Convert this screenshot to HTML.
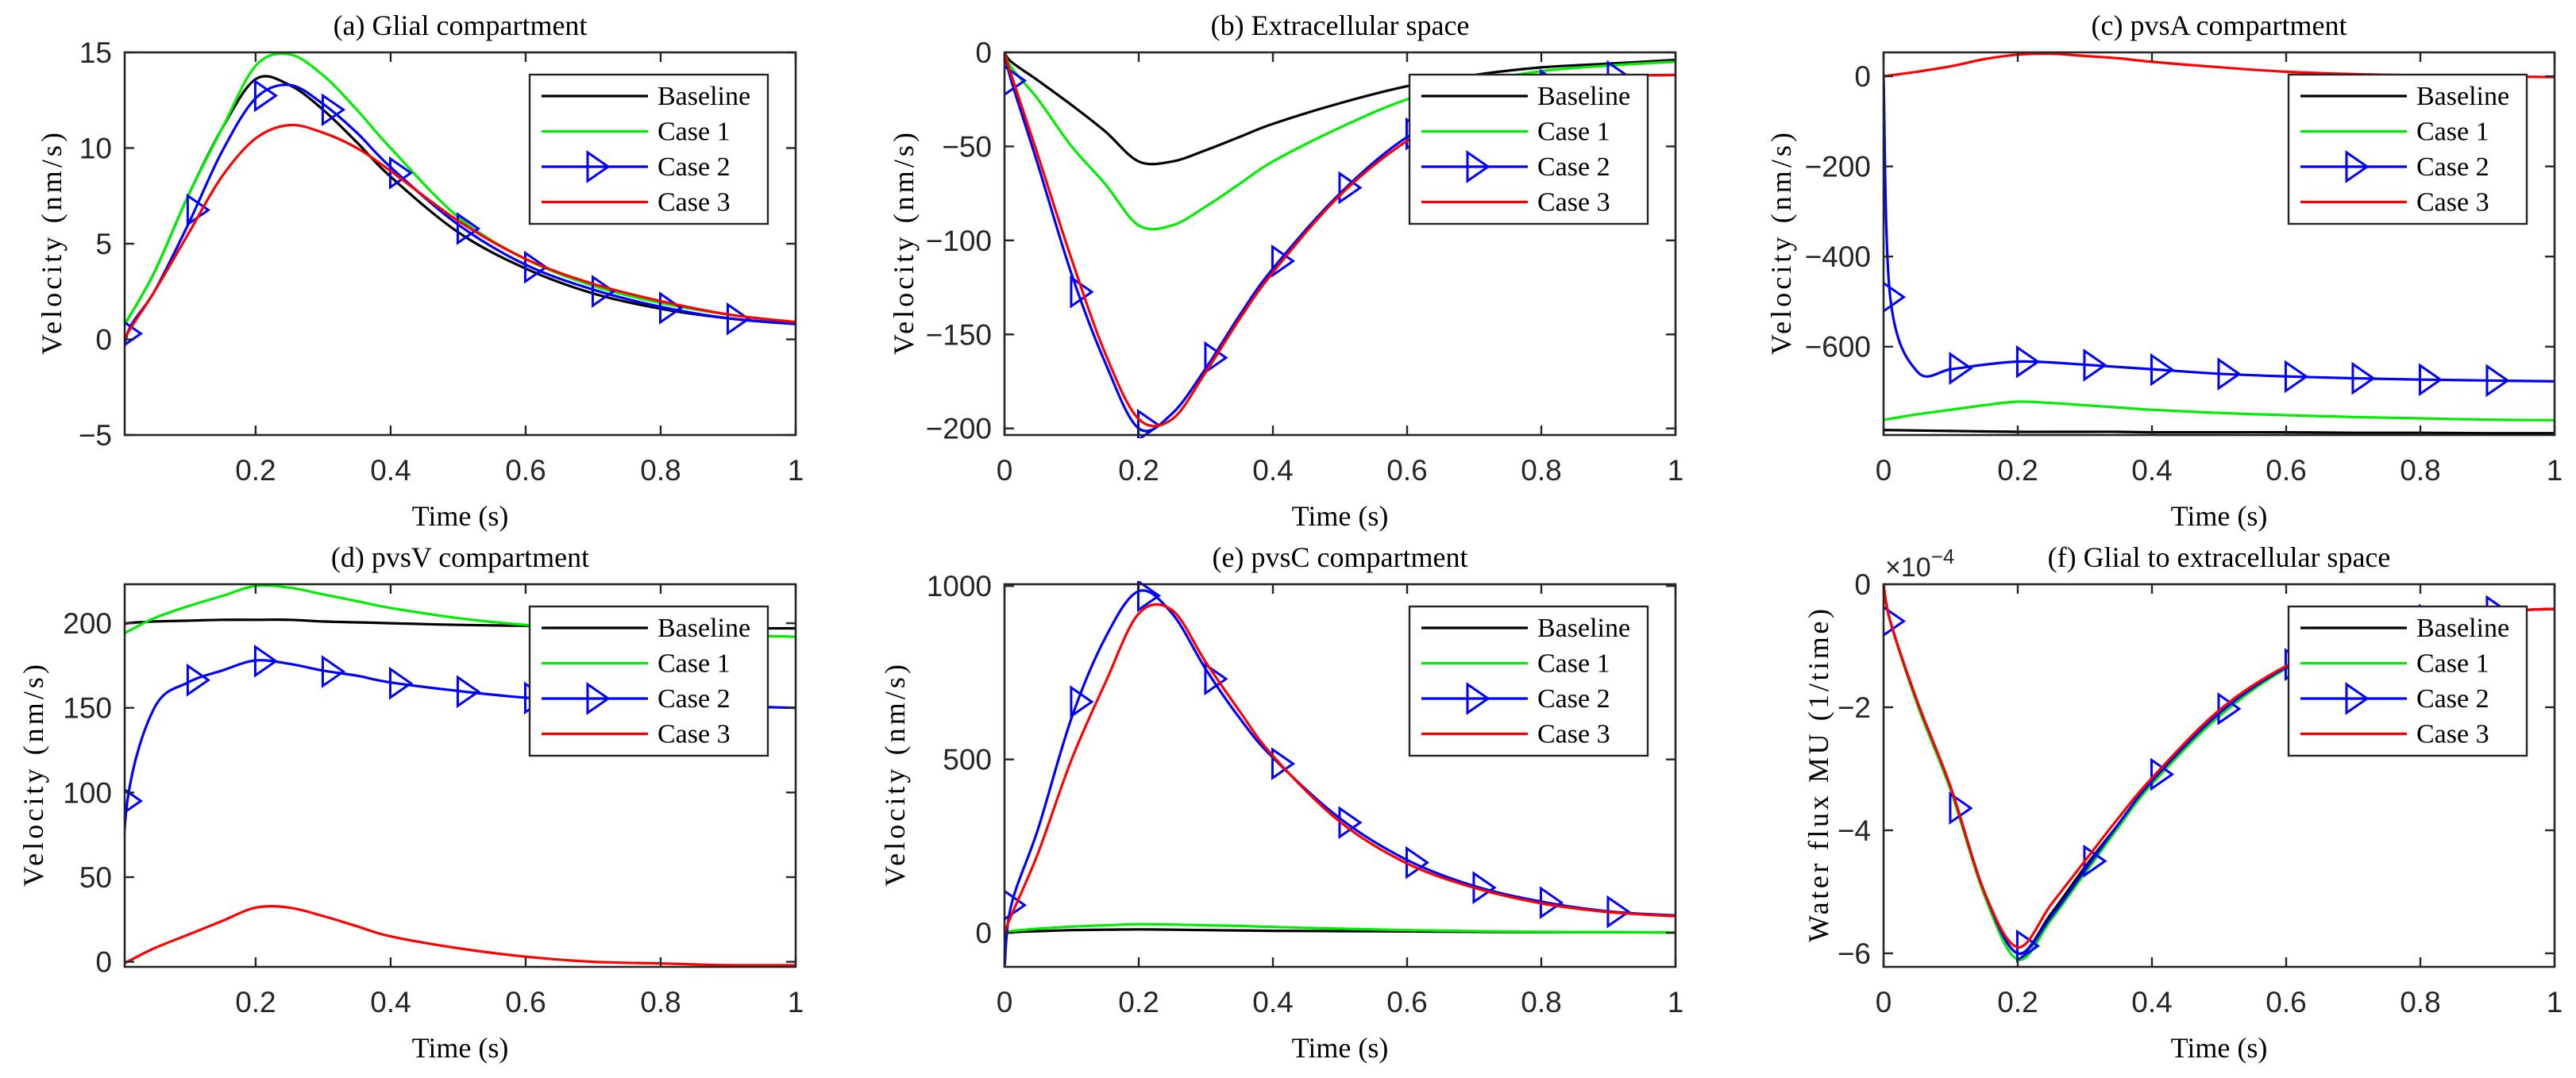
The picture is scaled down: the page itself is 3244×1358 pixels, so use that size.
<!DOCTYPE html>
<html><head><meta charset="utf-8"><style>
html,body{margin:0;padding:0;background:#fff;}
svg{display:block;}
</style></head><body>
<svg id="fig" width="3244" height="1358" viewBox="0 0 3244 1358" xmlns="http://www.w3.org/2000/svg"></svg>
<script>
// ---- shared data ----
const times = [0,0.01,0.05,0.1,0.15,0.2,0.25,0.3,0.35,0.4,0.5,0.6,0.7,0.8,0.9,1.0];
const seriesNames = ["Baseline","Case 1","Case 2","Case 3"];
const markerTimes = [0.01,0.11,0.21,0.31,0.41,0.51,0.61,0.71,0.81,0.91];

// (a) Glial compartment
const aBase = [0.3,1,3.5,7.5,11,13.6,13.3,12,10.3,8.5,5.6,3.7,2.4,1.6,1.1,0.8];
const aC1 = [0.3,1,3.5,7.5,11,14.3,14.9,13.8,12,10,6.4,4.2,2.8,1.9,1.3,0.9];
const aC2 = [-2.5,0.3,2.5,6,9.8,12.6,13.3,12.3,10.8,9,6,3.9,2.6,1.7,1.1,0.8];
const aC3 = [-0.5,0.3,2.5,5.5,8.5,10.5,11.2,10.8,10,8.8,6.2,4.2,2.9,2,1.3,0.9];
const aYTicks = [-5,0,5,10,15];
const aXTicks = [0.2,0.4,0.6,0.8,1];
// (b) Extracellular space
const bBase = [0,-5,-15,-28,-42,-58,-58,-52,-45,-38,-27,-18,-12,-8,-6,-4];
const bC1 = [0,-8,-25,-50,-70,-92,-92,-82,-70,-58,-40,-25,-16,-10,-7,-5];
const bC2 = [0,-15,-60,-118,-165,-200,-192,-168,-140,-115,-75,-45,-28,-18,-13,-12];
const bC3 = [0,-12,-55,-110,-160,-195,-195,-170,-142,-117,-76,-47,-28,-18,-13,-12];
const bYTicks = [-200,-150,-100,-50,0];
const bXTicks = [0,0.2,0.4,0.6,0.8,1];
// (c) pvsA compartment
const cBase = [-785,-785,-786,-787,-788,-789,-789,-789,-789,-790,-790,-790,-791,-791,-792,-792];
const cC1 = [-762,-760,-750,-740,-730,-722,-725,-730,-735,-740,-747,-752,-756,-759,-762,-763];
const cC2 = [0,-490,-655,-650,-640,-633,-635,-640,-645,-650,-660,-666,-670,-673,-675,-677];
const cC3 = [0,2,10,22,38,48,50,45,40,32,20,10,5,2,0,-2];
const cYTicks = [-600,-400,-200,0];
const cXTicks = [0,0.2,0.4,0.6,0.8,1];
// (d) pvsV compartment
const dBase = [199,200,201,201.5,202,202,202,201,200.5,200,199,198.5,198,197.5,197,197];
const dC1 = [193,195,203,210,216,222,221,217,213,209,203,199,197,195,193,192];
const dC2 = [8,95,150,165,172,178,176,172,169,165,160,156,154,152,151,150];
const dC3 = [-2,0,8,16,24,32,32,27,21,15,8,3,0,-1,-2,-2];
const dYTicks = [0,50,100,150,200];
const dXTicks = [0.2,0.4,0.6,0.8,1];
// (e) pvsC compartment
const eBase = [0,2,5,8,9,10,9,8,7,6,5,4,3,2,2,1];
const eC1 = [0,5,12,18,22,25,24,22,20,17,12,8,5,3,2,1];
const eC2 = [-98,80,300,620,850,985,920,760,620,505,330,210,135,90,62,50];
const eC3 = [0,50,230,500,720,920,930,780,640,510,320,200,130,85,60,48];
const eYTicks = [0,500,1000];
const eXTicks = [0,0.2,0.4,0.6,0.8,1];
// (f) Glial to extracellular space (x1e-4)
const fBase = [0,-0.6,-1.9,-3.3,-5.0,-6.0,-5.35,-4.6,-3.9,-3.2,-2.1,-1.35,-0.9,-0.6,-0.45,-0.4];
const fC1 = [0,-0.6,-1.95,-3.35,-5.05,-6.1,-5.45,-4.7,-3.95,-3.25,-2.15,-1.37,-0.9,-0.6,-0.45,-0.4];
const fC2 = [0,-0.6,-1.9,-3.3,-5.0,-6.0,-5.4,-4.65,-3.9,-3.2,-2.1,-1.35,-0.9,-0.6,-0.45,-0.4];
const fC3 = [0,-0.6,-1.9,-3.3,-5.0,-5.9,-5.2,-4.5,-3.8,-3.15,-2.05,-1.33,-0.9,-0.6,-0.45,-0.4];
const fYTicks = [-6,-4,-2,0];
const fXTicks = [0,0.2,0.4,0.6,0.8,1];

const NS = "http://www.w3.org/2000/svg";
const svg = document.getElementById("fig");
const COLORS = ["#000000","#00ee00","#0000ff","#ff0000"];
const AX = "#262626";
function mk(tag, attrs, parent){const e=document.createElementNS(NS,tag);for(const k in attrs)e.setAttribute(k,attrs[k]);(parent||svg).appendChild(e);return e;}
function fmt(v){let s=String(Math.round(v*1000)/1000);return s.replace("-","\u2212");}
function smoothPath(pts){
  let d="M"+pts[0][0].toFixed(1)+","+pts[0][1].toFixed(1);
  for(let i=0;i<pts.length-1;i++){
    const p0=pts[Math.max(0,i-1)],p1=pts[i],p2=pts[i+1],p3=pts[Math.min(pts.length-1,i+2)];
    const c1x=p1[0]+(p2[0]-p0[0])/6,c1y=p1[1]+(p2[1]-p0[1])/6;
    const c2x=p2[0]-(p3[0]-p1[0])/6,c2y=p2[1]-(p3[1]-p1[1])/6;
    d+=" C"+c1x.toFixed(1)+","+c1y.toFixed(1)+" "+c2x.toFixed(1)+","+c2y.toFixed(1)+" "+p2[0].toFixed(1)+","+p2[1].toFixed(1);
  }
  return d;
}
function interp(xs,ys,x){for(let i=0;i<xs.length-1;i++){if(x>=xs[i]&&x<=xs[i+1]){const f=(x-xs[i])/(xs[i+1]-xs[i]);return ys[i]+f*(ys[i+1]-ys[i]);}}return ys[ys.length-1];}

let panelIdx=0;
function panel(o){
  panelIdx++;
  const L=o.left,R=o.left+845,T=o.top,B=o.top+482;
  const g=mk("g",{});
  
  
  const xs=v=>L+(v-o.xmin)/(o.xmax-o.xmin)*(R-L);
  const ys=v=>B-(v-o.ymin)/(o.ymax-o.ymin)*(B-T);
  const cid="clip"+panelIdx;
  const cp=mk("clipPath",{id:cid},g);mk("rect",{x:L,y:T-4,width:R-L,height:B-T+8},cp);
  // series
  const lines=mk("g",{"clip-path":"url(#"+cid+")"},g);
  o.series.forEach((vals,si)=>{
    const pts=times.map((t,i)=>[xs(t),ys(vals[i])]);
    const p=mk("path",{d:smoothPath(pts),fill:"none",stroke:COLORS[si],"stroke-width":3.2,"stroke-linejoin":"round"},lines);
    
    
    if(si===2){
      markerTimes.forEach(mt=>{
        if(mt<o.xmin)return;
        const mx=xs(mt),my=ys(interp(times,vals,mt));
        const m=mk("polygon",{points:(mx-9)+","+(my-18)+" "+(mx+17)+","+my+" "+(mx-9)+","+(my+18),fill:"none",stroke:COLORS[2],"stroke-width":3},lines);
        
        
      });
    }
  });
  // axes box
  const box=mk("rect",{x:L,y:T,width:R-L,height:B-T,fill:"none",stroke:AX,"stroke-width":2.6},g);
  
  
  // x ticks
  o.xt.forEach(v=>{
    const x=xs(v);
    mk("line",{x1:x,y1:B,x2:x,y2:B-12,stroke:AX,"stroke-width":2.4},g);
    mk("line",{x1:x,y1:T,x2:x,y2:T+12,stroke:AX,"stroke-width":2.4},g);
    const t=mk("text",{x:x,y:B+57,"text-anchor":"middle","font-family":"Liberation Sans, sans-serif","font-size":37,fill:AX},g);
    t.textContent=fmt(v);
    
    
  });
  o.yt.forEach(v=>{
    const y=ys(v);
    mk("line",{x1:L,y1:y,x2:L+12,y2:y,stroke:AX,"stroke-width":2.4},g);
    mk("line",{x1:R,y1:y,x2:R-12,y2:y,stroke:AX,"stroke-width":2.4},g);
    const t=mk("text",{x:L-16,y:y+13,"text-anchor":"end","font-family":"Liberation Sans, sans-serif","font-size":37,fill:AX},g);
    t.textContent=fmt(v);
    
    
  });
  // title
  const tt=mk("text",{x:(L+R)/2,y:T-22,"text-anchor":"middle","font-family":"Liberation Serif, serif","font-size":36,fill:"#000"},g);
  tt.textContent=o.title;
  
  
  // x label
  const xl=mk("text",{x:(L+R)/2,y:B+114,"text-anchor":"middle","font-family":"Liberation Serif, serif","font-size":36,fill:"#000"},g);
  xl.textContent="Time (s)";
  
  
  // y label
  const cy=(T+B)/2;
  const yl=mk("text",{x:o.ylx,y:cy,"text-anchor":"middle","font-family":"Liberation Serif, serif","font-size":36,fill:"#000",transform:"rotate(-90 "+o.ylx+" "+cy+")",textLength:o.ylen||280,lengthAdjust:"spacing"},g);
  yl.textContent=o.ylabel;
  
  
  if(o.exp){
    const ex=mk("text",{x:L+2,y:T-10,"font-family":"Liberation Sans, sans-serif","font-size":34,fill:AX},g);
    ex.textContent="\u00d710";
    const sp=mk("tspan",{dy:-16,"font-size":26},ex);sp.textContent="\u22124";
    
    
  }
  // legend
  const lx=R-35-300,ly=T+28;
  const lg=mk("g",{},g);
  
  
  mk("rect",{x:lx,y:ly,width:300,height:188,fill:"#fff",stroke:AX,"stroke-width":2.4},lg);
  seriesNames.forEach((n,i)=>{
    const ey=ly+27+i*44.5;
    const le=mk("g",{},lg);
    
    
    mk("line",{x1:lx+15,y1:ey,x2:lx+149,y2:ey,stroke:COLORS[i],"stroke-width":3.2},le);
    if(i===2){const mx=lx+82;mk("polygon",{points:(mx-9)+","+(ey-18)+" "+(mx+17)+","+ey+" "+(mx-9)+","+(ey+18),fill:"none",stroke:COLORS[2],"stroke-width":3},le);}
    const t=mk("text",{x:lx+161,y:ey+11,"font-family":"Liberation Serif, serif","font-size":34,fill:"#000"},le);
    t.textContent=n;
  });
}

panel({key:"a",left:157,top:66,xmin:0.006,xmax:1,ymin:-5,ymax:15,xt:aXTicks,yt:aYTicks,series:[aBase,aC1,aC2,aC3],title:"(a) Glial compartment",ylabel:"Velocity (nm/s)",ylx:77});
panel({key:"b",left:1265,top:66,xmin:0,xmax:1,ymin:-203.5,ymax:0,xt:bXTicks,yt:bYTicks,series:[bBase,bC1,bC2,bC3],title:"(b) Extracellular space",ylabel:"Velocity (nm/s)",ylx:1150});
panel({key:"c",left:2372,top:66,xmin:0,xmax:1,ymin:-796,ymax:53,xt:cXTicks,yt:cYTicks,series:[cBase,cC1,cC2,cC3],title:"(c) pvsA compartment",ylabel:"Velocity (nm/s)",ylx:2255});
panel({key:"d",left:157,top:736,xmin:0.006,xmax:1,ymin:-3,ymax:223,xt:dXTicks,yt:dYTicks,series:[dBase,dC1,dC2,dC3],title:"(d) pvsV compartment",ylabel:"Velocity (nm/s)",ylx:54});
panel({key:"e",left:1265,top:736,xmin:0,xmax:1,ymin:-98,ymax:1005,xt:eXTicks,yt:eYTicks,series:[eBase,eC1,eC2,eC3],title:"(e) pvsC compartment",ylabel:"Velocity (nm/s)",ylx:1139});
panel({key:"f",left:2372,top:736,xmin:0,xmax:1,ymin:-6.22,ymax:0,xt:fXTicks,yt:fYTicks,series:[fBase,fC1,fC2,fC3],title:"(f) Glial to extracellular space",ylabel:"Water flux MU (1/time)",ylx:2302,ylen:420,exp:true});
</script>
</body></html>
